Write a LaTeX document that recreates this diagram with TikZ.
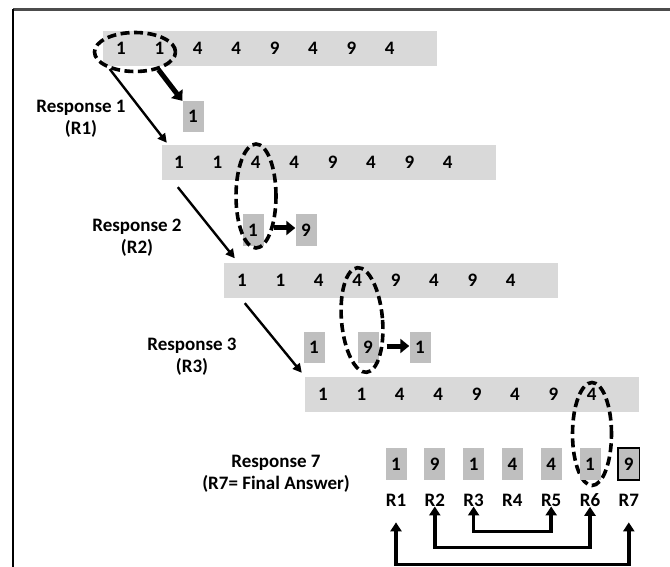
\documentclass[tikz,border=0pt]{standalone}
\usepackage{fontspec}
\setmainfont{Carlito}
\usetikzlibrary{arrows.meta,shapes.geometric}

\definecolor{bargray}{RGB}{217,217,217}
\definecolor{boxgray}{RGB}{191,191,191}

\tikzset{
  bar/.style={fill=bargray, minimum width=334pt, minimum height=35pt, inner sep=0},
  digit/.style={font=\bfseries\fontsize{19}{21}\selectfont, inner sep=0},
  cell/.style={fill=boxgray, minimum width=21pt, minimum height=31pt, inner sep=0,
    font=\bfseries\fontsize{19}{21}\selectfont},
  ring/.style={ellipse, draw, dash pattern=on 9pt off 4.5pt, line width=3.6pt, inner sep=0},
  thinarrow/.style={line width=2.4pt, -{Triangle[length=9pt,width=9pt]}},
  fatarrow/.style={line width=5pt, -{Triangle[length=9pt,width=14pt]}},
  linkarrow/.style={line width=3.6pt, {Triangle[length=9pt,width=11pt]}-{Triangle[length=9pt,width=11pt]}},
  lbl/.style={font=\bfseries\fontsize{19}{22}\selectfont, align=center}
}

\begin{document}
\begin{tikzpicture}[x=1pt, y=-1pt]
\useasboundingbox (0,0) rectangle (670,567);
% frame
\draw[gray!60!black, line width=2.4pt] (13,9.5) -- (670,9.5);
\draw[line width=2pt] (13,9.5) -- (13,567);

% the list after each response
\node[bar] (b1) at (270,48.5) {};
\node[bar] (b2) at (329,162.5) {};
\node[bar] (b3) at (391,280) {};
\node[bar] (b4) at (472,394.5) {};
\foreach \r/\x/\y in {1/121/48.5, 2/179/162.5, 3/242/280, 4/323/394.5}
  \foreach \d [count=\i] in {1,1,4,4,9,4,9,4}
    \node[digit] (d\r\i) at ({\x+38.4*(\i-1)},\y) {\d};

% values picked out
\node[cell] (s1) at (193,116.5) {1};
\node[cell] (s2a) at (253,230) {1};
\node[cell] (s2b) at (306,230) {9};
\node[cell] (s3a) at (314,347.5) {1};
\node[cell] (s3b) at (368,347.5) {9};
\node[cell] (s3c) at (420,347.5) {1};

\node[ring, minimum width=81pt, minimum height=39pt] (e1) at (135,52) {};
\node[ring, minimum width=40pt, minimum height=104pt] (e2) at (256,196) {};
\node[ring, minimum width=41pt, minimum height=105pt, rotate=5] (e3) at (362,320) {};
\node[ring, minimum width=39pt, minimum height=103pt] (e4) at (592,434) {};

\draw[fatarrow] (e1.-37) -- (s1.north west);
\draw[fatarrow] ([xshift=10pt,yshift=2pt]s2a.east) -- ([yshift=2pt]s2b.west);
\draw[fatarrow] ([xshift=8pt,yshift=1.5pt]s3b.east) -- ([yshift=1.5pt]s3c.west);

\draw[thinarrow] (e1.214) -- ([xshift=5pt,yshift=2pt]b2.north west);
\draw[thinarrow] ([xshift=16pt,yshift=-7pt]b2.south west) -- ([xshift=11pt,yshift=4pt]b3.north west);
\draw[thinarrow] ([xshift=21pt,yshift=-5.5pt]b3.south west) -- ([xshift=-3pt,yshift=4pt]b4.north west);

\node[lbl] (t1) at (81,119) {Response 1\\(R1)};
\node[lbl] (t2) at (137,238) {Response 2\\(R2)};
\node[lbl] (t3) at (192,357) {Response 3\\(R3)};
\node[lbl] (t7) at (276,474) {Response 7\\(R7= Final Answer)};

% final answer row
\foreach \d [count=\i] in {1,9,1,4,4,1,9} {
  \node[cell, minimum height=32pt] (f\i) at ({396+38.8*(\i-1)},464) {\d};
  \node[digit] (l\i) at ({396+38.8*(\i-1)},500) {R\i};
}
\draw[line width=1.8pt] (f7.south west) rectangle (f7.north east);

\draw[linkarrow] (l3.south) -- ++(0,25) -| (l5.south);
\draw[linkarrow] (l2.south) -- ++(0,41) -| (l6.south);
\draw[linkarrow] ([yshift=-16pt]l1.south) -- ++(0,42) -| ([yshift=-16pt]l7.south);
\end{tikzpicture}
\end{document}
